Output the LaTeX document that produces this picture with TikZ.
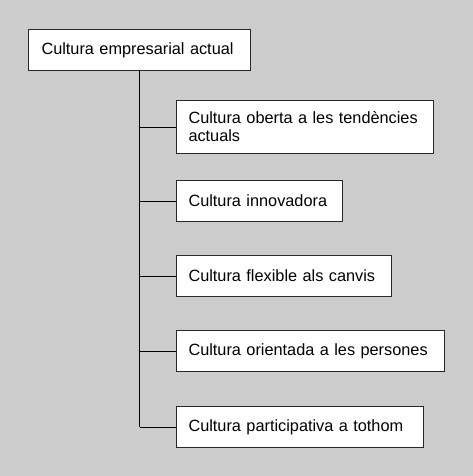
\documentclass[tikz,border=0pt]{standalone}
\usepackage{fontspec}
\setmainfont{Liberation Sans}
\usetikzlibrary{positioning}
\definecolor{bggray}{RGB}{204,204,204}
\definecolor{edgegray}{RGB}{40,40,40}

\begin{document}
\begin{tikzpicture}[x=1pt,y=-1pt,line width=1pt,
    main box/.style={draw=edgegray,fill=white,anchor=west,align=left,inner xsep=12pt,
      minimum height=41pt,font=\fontsize{16.3}{18}\selectfont},
    branch/.style={draw=black}]
    \fill[bggray] (0,0) rectangle (473,476);
    \useasboundingbox (0,0) rectangle (473,476);
    \node[main box,inner xsep=13pt,text width=196pt] (root) at (28,50) {Cultura empresarial actual};
    \node[main box,text width=233pt,minimum height=52pt] (c1) at (176,127) {Cultura oberta a les tendències\\actuals};
    \node[main box,text width=142pt] (c2) at (176,201) {Cultura innovadora};
    \node[main box,text width=191pt] (c3) at (176,276) {Cultura flexible als canvis};
    \node[main box,text width=244pt] (c4) at (176,351) {Cultura orientada a les persones};
    \node[main box,text width=223pt] (c5) at (176,427) {Cultura participativa a tothom};
    \draw[branch] (root.south) -- (root.south |- c5.west);
    \foreach \n in {1,...,5}
      \draw[branch] (root.south |- c\n.west) -- (c\n.west);
  \end{tikzpicture}
\end{document}
